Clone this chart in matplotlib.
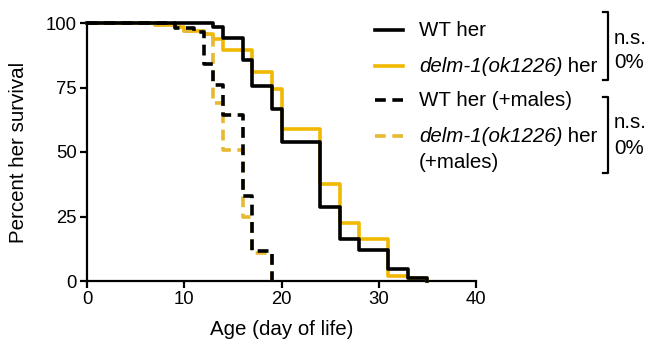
import matplotlib
matplotlib.use("Agg")
import matplotlib.pyplot as plt
from matplotlib.lines import Line2D

plt.rcParams['font.family'] = ['Liberation Sans', 'DejaVu Sans']

# Kaplan-Meier step data (day, percent surviving)
wt_days = [0, 13, 14, 16, 17, 19, 20, 24, 26, 28, 31, 33, 35]
wt_surv = [100, 98.5, 94, 85.5, 75.5, 66.5, 53.8, 28.8, 16.3, 12, 4.5, 1, 0]

delm_days = [0, 7, 9, 10, 12, 13, 14, 17, 19, 20, 24, 26, 28, 31, 33, 35]
delm_surv = [100, 99.3, 98.3, 97, 95.6, 93.8, 89.5, 81, 74.3, 58.8, 37.6, 22.6, 16.3, 2, 1, 0]

wtm_days = [0, 9, 11, 12, 13, 14, 16, 17, 19]
wtm_surv = [100, 98, 96.6, 84, 76, 64.4, 33, 11.5, 0]

delmm_days = [0, 7, 9, 10, 12, 13, 14, 16, 17, 19]
delmm_surv = [100, 99.3, 98.3, 97, 95.6, 69, 50.8, 25, 11, 0]

# legend labels: (italic part, plain part, second line)
labels = [("", "WT her", ""),
          ("delm-1(ok1226)", " her", ""),
          ("", "WT her (+males)", ""),
          ("delm-1(ok1226)", " her", "(+males)")]
stats = [("n.s.", "0%"), ("n.s.", "0%")]

x_ticks = [0, 10, 20, 30, 40]
y_ticks = [0, 25, 50, 75, 100]

BLACK = "#000000"
GOLD = "#F0B800"
GOLD_D = "#E8B830"

W, H = 652, 350
fig = plt.figure(figsize=(W / 100, H / 100), dpi=100)
ax = fig.add_axes([87 / W, 1 - 281 / H, (476 - 87) / W, (281 - 23) / H])

lw = 2.6
dash = (0, (3.0, 1.8))
series = [
    (wt_days, wt_surv, BLACK, '-'),
    (delm_days, delm_surv, GOLD, '-'),
    (wtm_days, wtm_surv, BLACK, dash),
    (delmm_days, delmm_surv, GOLD_D, dash),
]
order = [1, 0, 3, 2]
for i in order:
    d, s, c, ls = series[i]
    ax.step(d, s, where='post', color=c, lw=lw, linestyle=ls,
            clip_on=False, zorder=3 + (i % 2 == 0))

ax.set_xlim(0, 40)
ax.set_ylim(0, 100)
ax.set_xticks(x_ticks)
ax.set_yticks(y_ticks)
for sp in ['top', 'right']:
    ax.spines[sp].set_visible(False)
for sp in ['left', 'bottom']:
    ax.spines[sp].set_linewidth(1.6)
ax.tick_params(axis='both', direction='out', length=5, width=1.6,
               labelsize=13.3, pad=2.5, colors='black')
ax.set_xlabel("Age (day of life)", fontsize=14.8, labelpad=8)
ax.set_ylabel("Percent her survival", fontsize=14.8, labelpad=13)

# Legend (manual)
FS = 14.8
hx0, hx1 = 375 / W, 403 / W
tx = 419 / W
rows = [30, 66, 100, 136]
styles = [(BLACK, '-'), (GOLD, '-'), (BLACK, dash), (GOLD_D, dash)]
renderer = fig.canvas.get_renderer()
for (c, ls), yp, (it, plain, second) in zip(styles, rows, labels):
    yf = 1 - yp / H
    fig.add_artist(Line2D([hx0, hx1], [yf, yf], color=c, lw=lw, linestyle=ls,
                          transform=fig.transFigure))
    if it:
        t = fig.text(tx, yf, it, fontsize=FS, va='center', ha='left', style='italic')
        wpx = t.get_window_extent(renderer).width
        fig.text(tx + wpx / W, yf, plain, fontsize=FS, va='center', ha='left')
    else:
        fig.text(tx, yf, plain, fontsize=FS, va='center', ha='left')
    if second:
        fig.text(tx, 1 - 162 / H, second, fontsize=FS, va='center', ha='left')

# brackets
bx = 608 / W
brackets = [(12, 80, 39, 62), (97, 173, 123, 148)]
for (yt, yb, y1, y2), (s1, s2) in zip(brackets, stats):
    ytf, ybf = 1 - yt / H, 1 - yb / H
    fig.add_artist(Line2D([603 / W, bx, bx, 603 / W], [ytf, ytf, ybf, ybf],
                          color='black', lw=1.6, transform=fig.transFigure))
    fig.text(614 / W, 1 - y1 / H, s1, fontsize=FS, va='center', ha='left')
    fig.text(614 / W, 1 - y2 / H, s2, fontsize=FS, va='center', ha='left')

fig.savefig("out.png", dpi=100)
